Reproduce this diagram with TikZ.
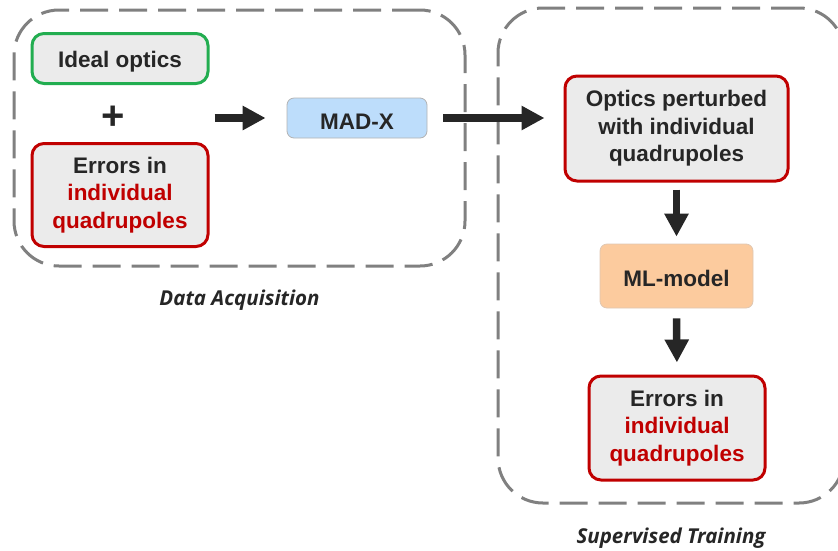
\documentclass[tikz,border=0pt]{standalone}
\usepackage{fontspec}
\setmainfont{Liberation Sans}
\newfontfamily\capfont{Open Sans}
\usetikzlibrary{arrows.meta,positioning}
\definecolor{ink}{HTML}{262626}
\definecolor{boxgrey}{HTML}{EBEBEB}
\definecolor{errred}{HTML}{C00000}
\definecolor{optgreen}{HTML}{22AD50}
\definecolor{madblue}{HTML}{BDDDFB}
\definecolor{mlorange}{HTML}{FCCB9E}
\definecolor{framegrey}{HTML}{808080}
\tikzset{
box/.style={draw, rounded corners=12pt, fill=boxgrey, line width=3pt,
	align=center, text=ink, inner sep=0pt,
	font=\fontsize{22.5}{27.5}\selectfont\bfseries,
	execute at begin node={\rule{0pt}{22pt}}},
okbox/.style={box, draw=optgreen},
errbox/.style={box, draw=errred},
softbox/.style={box, line width=0.8pt, rounded corners=7pt},
frame/.style={draw=framegrey, line width=3pt, rounded corners=45pt,
	dash pattern=on 28pt off 11pt, inner sep=0pt},
caption/.style={text=ink, font=\capfont\fontsize{20.5}{24}\selectfont\bfseries\itshape},
fat/.style={draw=ink, line width=7.5pt, -{Triangle[length=23pt,width=23pt]}}
}
\newcommand{\red}[1]{\textcolor{errred}{#1}}

\begin{document}
\begin{tikzpicture}[x=1pt, y=-1pt]
	\useasboundingbox (0,0) rectangle (838,550);
	\clip (0,0) rectangle (838,550);
	% frames
	\node[frame, minimum width=451pt, minimum height=256pt] (acq) at (239.5,138) {};
	\node[caption, below=19pt of acq] (acqlbl) {Data Acquisition};
	\node[frame, minimum width=346pt, minimum height=495pt] (train) at (671,255.5) {};
	\node[caption, below=20pt of train] (trainlbl) {Supervised Training};
	% data acquisition
	\node[okbox, minimum width=176pt, minimum height=50pt] (ideal) at (120,58.5) {Ideal optics};
	\node[text=ink, font=\fontsize{40}{40}\selectfont\bfseries] (plus) at (113,118) {+};
	\node[errbox, minimum width=176pt, minimum height=103pt] (err) at (120,195)
		{Errors in\\ \red{individual}\\ \red{quadrupoles}};
	\node[softbox, fill=madblue, draw=framegrey!60, minimum width=140pt, minimum height=40pt] (madx) at (357,118) {MAD-X};
	% supervised training
	\node[errbox, minimum width=223pt, minimum height=105pt] (optics) at (676.5,128.5)
		{Optics perturbed\\ with individual\\ quadrupoles};
	\node[softbox, fill=mlorange, draw=mlorange!80!black!60, minimum width=153pt, minimum height=64pt] (ml) at (676.5,276) {ML-model};
	\node[errbox, minimum width=176pt, minimum height=104pt] (res) at (677,428)
		{Errors in\\ \red{individual}\\ \red{quadrupoles}};
	% arrows
	\draw[fat, shorten >=21pt] ([xshift=5pt]ideal.east |- madx.west) -- (madx.west);
	\draw[fat, shorten <=16pt, shorten >=19pt] (madx.east) -- (madx.east -| optics.west);
	\draw[fat, shorten <=7pt, shorten >=7pt] (optics.south) -- (ml.north);
	\draw[fat, shorten <=10pt, shorten >=12pt] (ml.south) -- (res.north);
\end{tikzpicture}
\end{document}
